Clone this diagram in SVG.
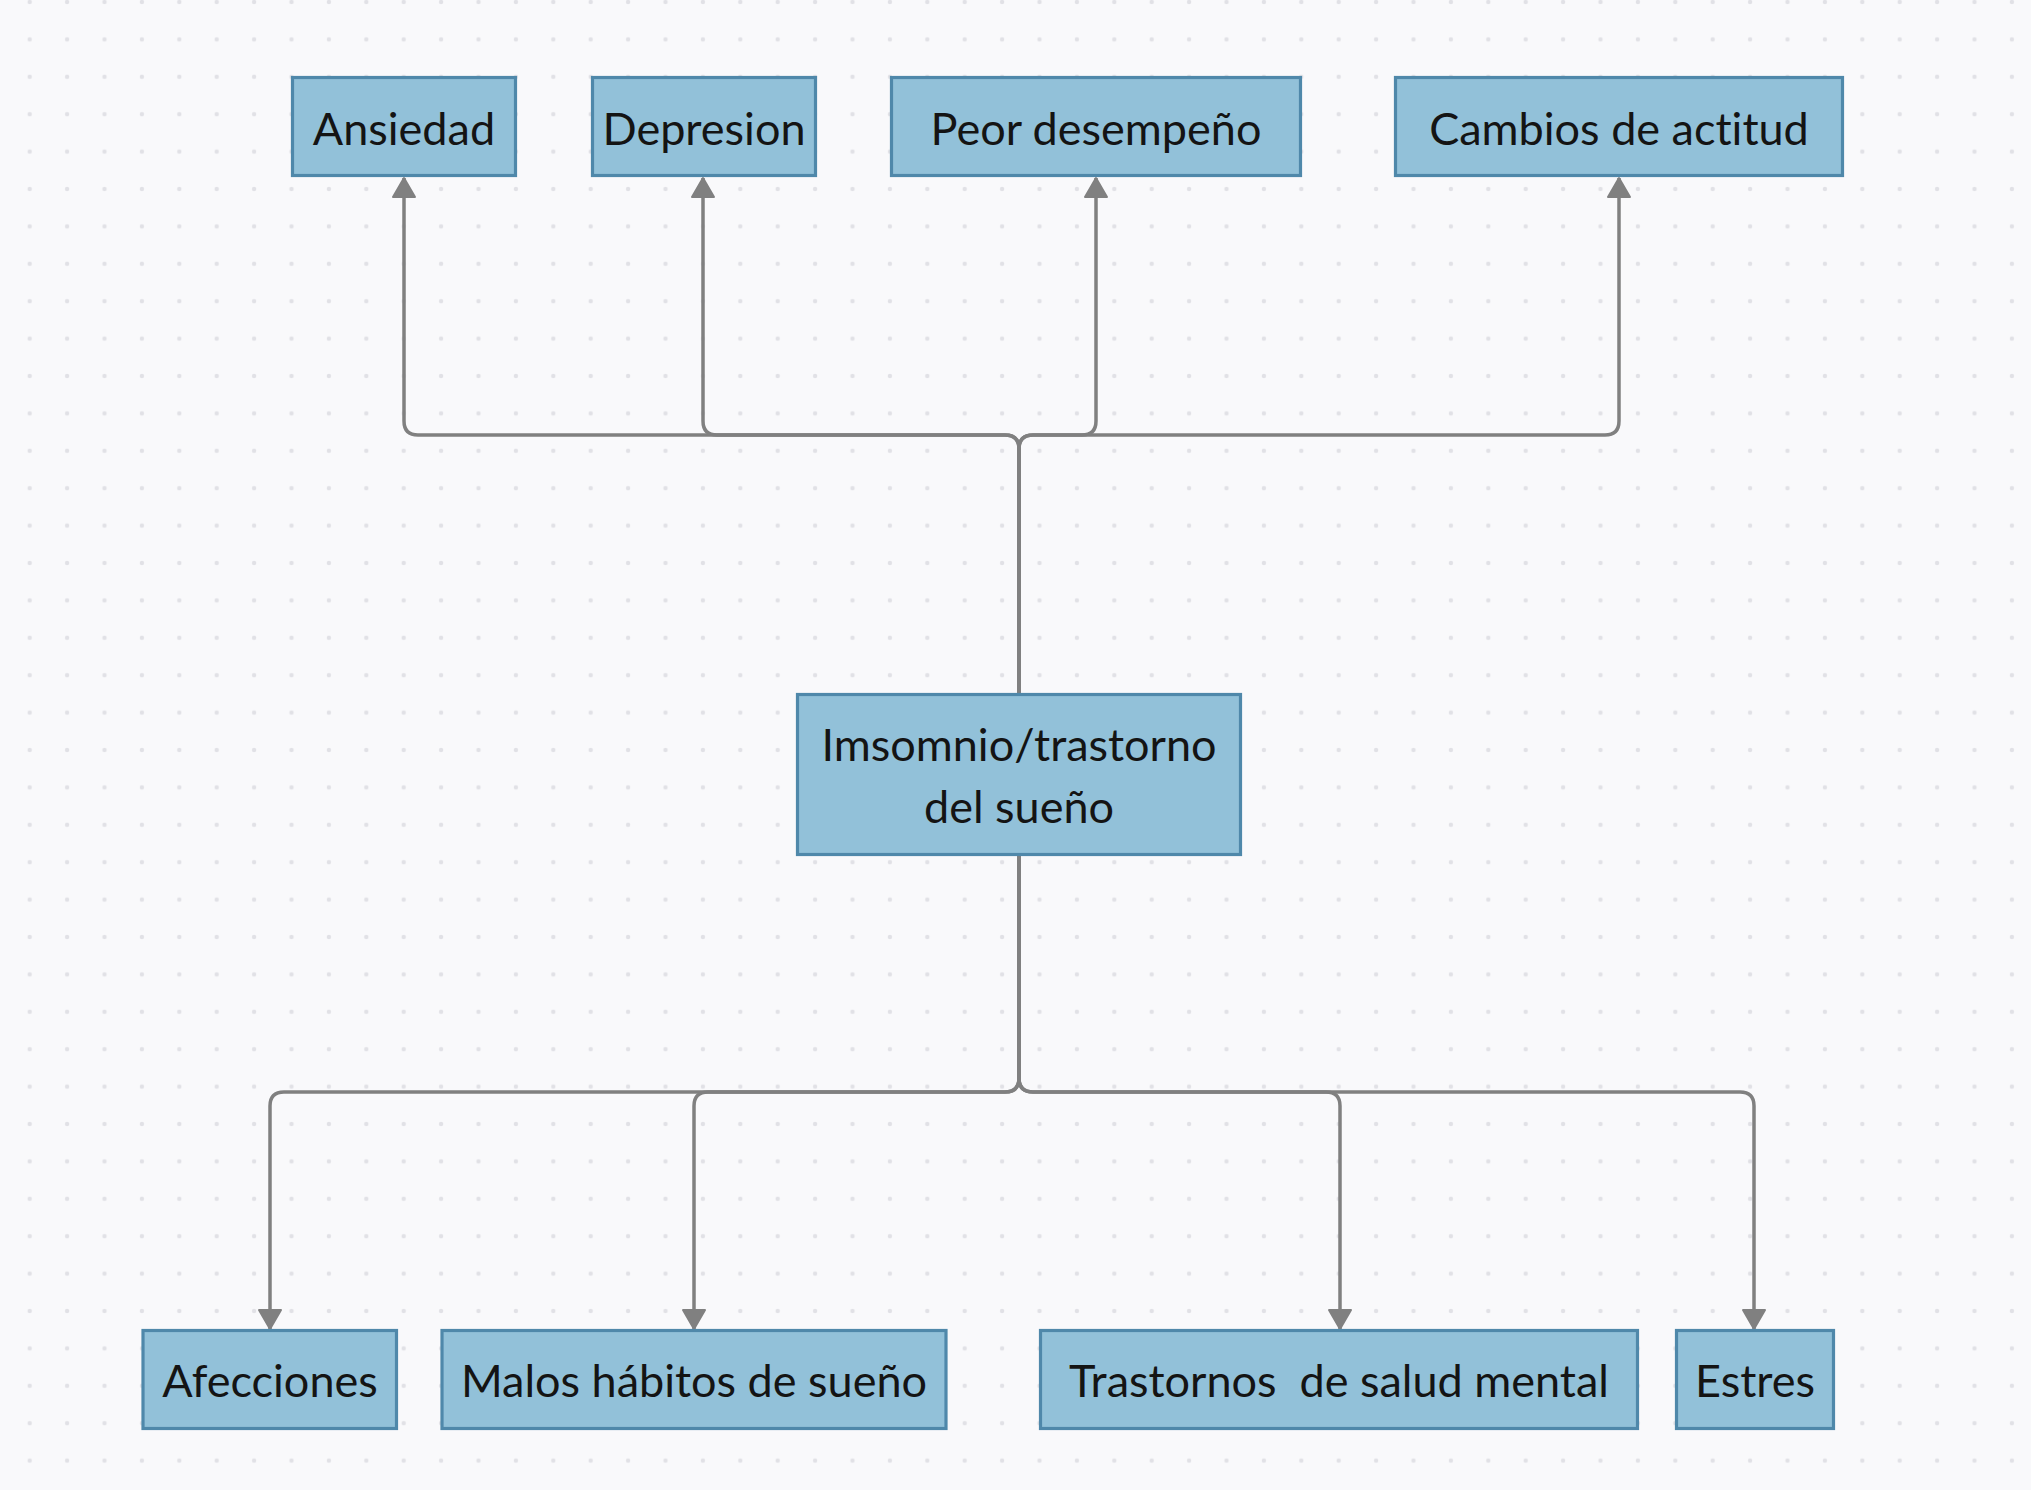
<svg xmlns="http://www.w3.org/2000/svg" width="2031" height="1490" viewBox="0 0 2031 1490">
<style>
.box{fill:#92c1d9;stroke:#4f88aa;stroke-width:3.2}
.lbl{font-family:Lato,"Liberation Sans",sans-serif;font-size:45px;fill:#141414;text-anchor:middle;font-variant-ligatures:none;font-feature-settings:"liga" 0}
.cn{fill:none;stroke:#808080;stroke-width:3.5;marker-end:url(#ah)}
</style>
<defs>
<pattern id="dots" x="29.7" y="2" width="37.4" height="37.4" patternUnits="userSpaceOnUse">
<circle cx="0" cy="0" r="2.2" fill="#e1e1e6"/>
<circle cx="37.4" cy="0" r="2.2" fill="#e1e1e6"/>
<circle cx="0" cy="37.4" r="2.2" fill="#e1e1e6"/>
<circle cx="37.4" cy="37.4" r="2.2" fill="#e1e1e6"/>
</pattern>
<marker id="ah" markerUnits="userSpaceOnUse" markerWidth="28" markerHeight="28" viewBox="-2 -14 24 28" refX="19" refY="0" orient="auto">
<path d="M0,-11 L19,0 L0,11 Z" fill="#808080" stroke="#808080" stroke-width="2" stroke-linejoin="round"/>
</marker>
</defs>
<rect width="2031" height="1490" fill="#f9f9fb"/>
<rect width="2031" height="1490" fill="url(#dots)"/>
<g id="connectors">
<path class="cn" d="M1019 693 V449 Q1019 435 1005 435 H418 Q404 435 404 421 V178"/>
<path class="cn" d="M1019 693 V449 Q1019 435 1005 435 H717 Q703 435 703 421 V178"/>
<path class="cn" d="M1019 693 V449 Q1019 435 1033 435 H1082 Q1096 435 1096 421 V178"/>
<path class="cn" d="M1019 693 V449 Q1019 435 1033 435 H1605 Q1619 435 1619 421 V178"/>
<path class="cn" d="M1019 856 V1078 Q1019 1092 1005 1092 H284 Q270 1092 270 1106 V1329"/>
<path class="cn" d="M1019 856 V1078 Q1019 1092 1005 1092 H708 Q694 1092 694 1106 V1329"/>
<path class="cn" d="M1019 856 V1078 Q1019 1092 1033 1092 H1326 Q1340 1092 1340 1106 V1329"/>
<path class="cn" d="M1019 856 V1078 Q1019 1092 1033 1092 H1740 Q1754 1092 1754 1106 V1329"/>
</g>
<g id="n-ansiedad"><rect class="box" x="292.5" y="77.5" width="223" height="98"/><text class="lbl" x="404" y="145">Ansiedad</text></g>
<g id="n-depresion"><rect class="box" x="592.5" y="77.5" width="223" height="98"/><text class="lbl" x="704" y="145">Depresion</text></g>
<g id="n-peor"><rect class="box" x="891.5" y="77.5" width="409" height="98"/><text class="lbl" x="1096" y="145">Peor desempeño</text></g>
<g id="n-cambios"><rect class="box" x="1395.5" y="77.5" width="447" height="98"/><text class="lbl" x="1619" y="145">Cambios de actitud</text></g>
<g id="n-insomnio"><rect class="box" x="797.5" y="694.5" width="443" height="160"/><text class="lbl" x="1019" y="761">Imsomnio/trastorno</text><text class="lbl" x="1019" y="823">del sueño</text></g>
<g id="n-afecciones"><rect class="box" x="143" y="1330.5" width="253.5" height="98"/><text class="lbl" x="270" y="1397">Afecciones</text></g>
<g id="n-malos"><rect class="box" x="442" y="1330.5" width="504" height="98"/><text class="lbl" x="694" y="1397">Malos hábitos de sueño</text></g>
<g id="n-trastornos"><rect class="box" x="1040.5" y="1330.5" width="597" height="98"/><text class="lbl" x="1339" y="1397" xml:space="preserve">Trastornos  de salud mental</text></g>
<g id="n-estres"><rect class="box" x="1676.5" y="1330.5" width="157" height="98"/><text class="lbl" x="1755" y="1397">Estres</text></g>
</svg>
